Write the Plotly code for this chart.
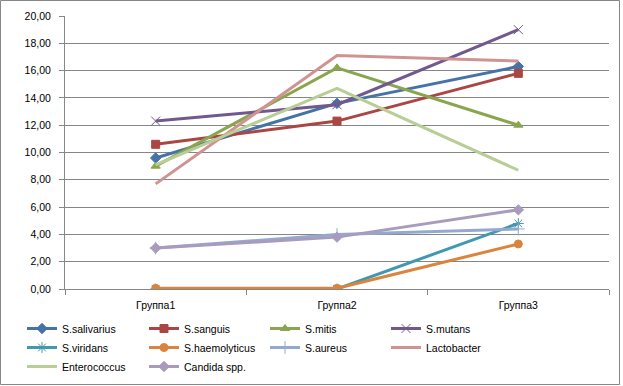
import plotly.graph_objects as go

categories = ["Группа1", "Группа2", "Группа3"]

s_salivarius = [9.6, 13.6, 16.3]
s_sanguis = [10.6, 12.3, 15.8]
s_mitis = [9.0, 16.2, 12.0]
s_mutans = [12.3, 13.5, 19.0]
s_viridans = [0.0, 0.0, 4.8]
s_haemolyticus = [0.05, 0.05, 3.3]
s_aureus = [3.0, 4.0, 4.4]
lactobacter = [7.7, 17.1, 16.7]
enterococcus = [9.1, 14.7, 8.7]
candida = [3.0, 3.8, 5.8]

series_names = ["S.salivarius", "S.sanguis", "S.mitis", "S.mutans", "S.viridans",
                "S.haemolyticus", "S.aureus", "Lactobacter", "Enterococcus", "Candida spp."]
series_values = [s_salivarius, s_sanguis, s_mitis, s_mutans, s_viridans,
                 s_haemolyticus, s_aureus, lactobacter, enterococcus, candida]
series_colors = ["#4572A7", "#AA4643", "#89A54E", "#71588F", "#4198AF",
                 "#DB843D", "#93A9CF", "#D19392", "#B9CD96", "#A99BBD"]
series_symbols = ["diamond", "square", "triangle-up", "x-thin-open", "asterisk-open",
                  "circle", "cross-thin-open", None, None, "diamond"]

yticks = [0, 2, 4, 6, 8, 10, 12, 14, 16, 18, 20]
yticktext = [f"{v:.2f}".replace(".", ",") for v in yticks]

legend_ids = ["legend", "legend2", "legend3", "legend4"]

fig = go.Figure()
for i, (name, vals, color, sym) in enumerate(zip(series_names, series_values, series_colors, series_symbols)):
    lg = legend_ids[i % 4]
    if sym is None:
        fig.add_trace(go.Scatter(x=categories, y=vals, name=name, mode="lines", legend=lg,
                                 line=dict(color=color, width=3)))
    else:
        fig.add_trace(go.Scatter(x=categories, y=vals, name=name, mode="lines+markers", legend=lg,
                                 line=dict(color=color, width=3),
                                 marker=dict(symbol=sym, size=9 if "open" in sym else 8, color=color,
                                             line=dict(color=color, width=1))))

L, R, T, B = 65, 14, 16, 97
W, H = 623, 386
pw = W - L - R
ph = H - T - B

col_text_x = [62, 184, 305, 426]
legend_top = 314

legend_common = dict(orientation="v", xanchor="left", yanchor="top", itemwidth=30,
                     font=dict(size=10.5), tracegroupgap=0, bgcolor="rgba(0,0,0,0)")
legends = {}
for k, lg in enumerate(legend_ids):
    legends[lg] = dict(legend_common, x=(col_text_x[k] - 40 - L) / pw, y=(H - B - legend_top) / ph)

fig.update_layout(
    width=W, height=H,
    margin=dict(l=L, r=R, t=T, b=B, autoexpand=False),
    paper_bgcolor="white", plot_bgcolor="white",
    font=dict(family="Liberation Sans", size=10.5, color="#000000"),
    xaxis=dict(type="category", showgrid=False, showline=True, linecolor="#868686", linewidth=1,
               ticks="outside", tickson="boundaries", ticklen=5, tickcolor="#868686",
               range=[-0.5, 2.5], ticklabelstandoff=6),
    yaxis=dict(range=[0, 20], tickvals=yticks, ticktext=yticktext, showgrid=True,
               gridcolor="#868686", gridwidth=1, showline=True, linecolor="#868686",
               ticks="outside", ticklen=5, tickcolor="#868686", zeroline=False,
               ticklabelstandoff=6),
    shapes=[dict(type="rect", xref="paper", yref="paper",
                 x0=(0.5 - L) / pw, x1=(619.5 - L) / pw,
                 y0=(H - B - 384.5) / ph, y1=(H - B - 0.5) / ph,
                 line=dict(color="#868686", width=1), fillcolor="rgba(0,0,0,0)", layer="below")],
    **legends,
)

fig.write_html("out.html", config={"displayModeBar": False},
               post_script="document.body.style.margin='0';")
